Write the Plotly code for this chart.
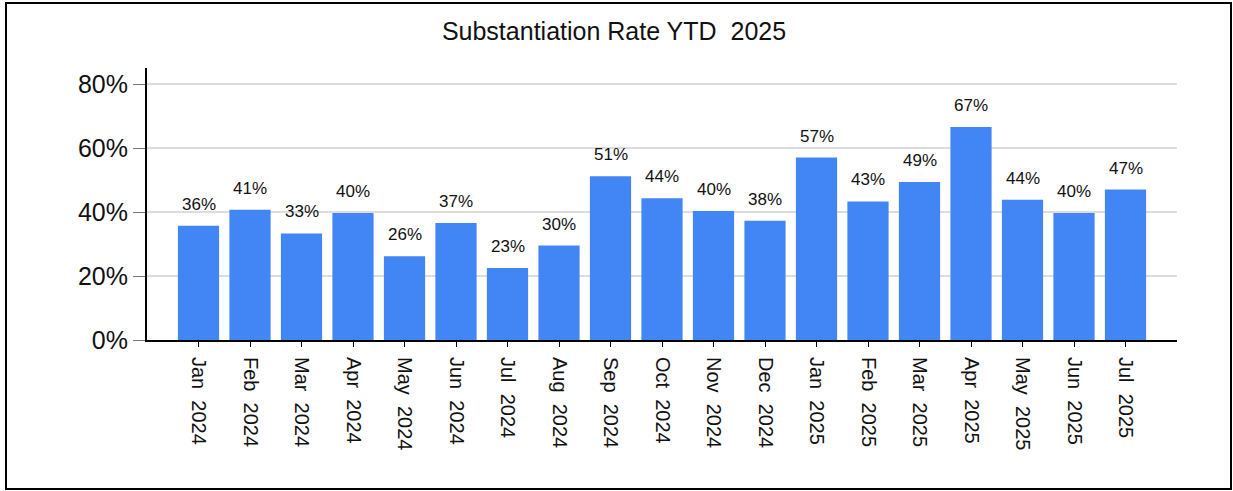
import plotly.graph_objects as go

# ---- data ----
months = ["Jan\u00a0\u00a02024", "Feb\u00a0\u00a02024", "Mar\u00a0\u00a02024", "Apr\u00a0\u00a02024",
          "May\u00a0\u00a02024", "Jun\u00a0\u00a02024", "Jul\u00a0\u00a02024", "Aug\u00a0\u00a02024",
          "Sep\u00a0\u00a02024", "Oct\u00a0\u00a02024", "Nov\u00a0\u00a02024", "Dec\u00a0\u00a02024",
          "Jan\u00a0\u00a02025", "Feb\u00a0\u00a02025", "Mar\u00a0\u00a02025", "Apr\u00a0\u00a02025",
          "May\u00a0\u00a02025", "Jun\u00a0\u00a02025", "Jul\u00a0\u00a02025"]
rates = [35.7, 40.7, 33.3, 39.7, 26.2, 36.6, 22.5, 29.5, 51.2, 44.3, 40.3, 37.3,
         57.0, 43.3, 49.4, 66.6, 43.8, 39.7, 47.0]
labels = ["36%", "41%", "33%", "40%", "26%", "37%", "23%", "30%", "51%", "44%", "40%", "38%",
          "57%", "43%", "49%", "67%", "44%", "40%", "47%"]
y_ticks = [0, 20, 40, 60, 80]
title_text = "Substantiation Rate YTD\u00a0\u00a02025"

FONT = "Liberation Sans, Arial, sans-serif"

fig = go.Figure()
fig.add_trace(go.Bar(x=months, y=rates, marker=dict(color="#4285f4", line=dict(width=0)),
                     hoverinfo="skip"))

for m, v, t in zip(months, rates, labels):
    fig.add_annotation(x=m, y=v, text=t, showarrow=False, yanchor="bottom",
                       yshift=10, font=dict(family=FONT, size=17, color="#111111"))

W, H = 1233, 491
L, R, T, B = 147, 56, 68, 151
pw, ph = W - L - R, H - T - B

# outer frame (pixel positions converted to paper coords)
fx0, fx1, fy0, fy1 = 6, 1231, 3, 489
fig.add_shape(type="rect", xref="paper", yref="paper",
              x0=(fx0 - L) / pw, x1=(fx1 - L) / pw,
              y0=(H - B - fy1) / ph, y1=(H - B - fy0) / ph,
              line=dict(color="black", width=2), fillcolor="rgba(0,0,0,0)", layer="below")

fig.update_layout(
    width=W, height=H,
    margin=dict(l=L, r=R, t=T, b=B, pad=0),
    paper_bgcolor="white", plot_bgcolor="white",
    bargap=0.2,
    showlegend=False,
    title=dict(text=title_text, x=614 / W, xref="container", xanchor="center",
               y=1 - 31 / H, yanchor="middle",
               font=dict(family=FONT, size=25, color="#111111")),
    font=dict(family=FONT, color="#111111"),
)
fig.update_xaxes(type="category", range=[-1, len(months)], showline=True, linecolor="black",
                 linewidth=2, ticks="outside", ticklen=5, tickcolor="black", tickwidth=1,
                 tickangle=90, tickfont=dict(family=FONT, size=20, color="#111111"),
                 showgrid=False, zeroline=False, ticklabelstandoff=6)
fig.update_yaxes(range=[0, 85], tickvals=y_ticks, ticktext=[f"{v}%" for v in y_ticks],
                 showline=True, linecolor="black", linewidth=2,
                 ticks="outside", ticklen=12, tickcolor="#777777", tickwidth=1,
                 showgrid=True, gridcolor="#dddddd", gridwidth=2, zeroline=False,
                 tickfont=dict(family=FONT, size=25, color="#111111"))

fig.write_html("out.html", config={"displayModeBar": False},
               post_script="document.body.style.margin='0';")
